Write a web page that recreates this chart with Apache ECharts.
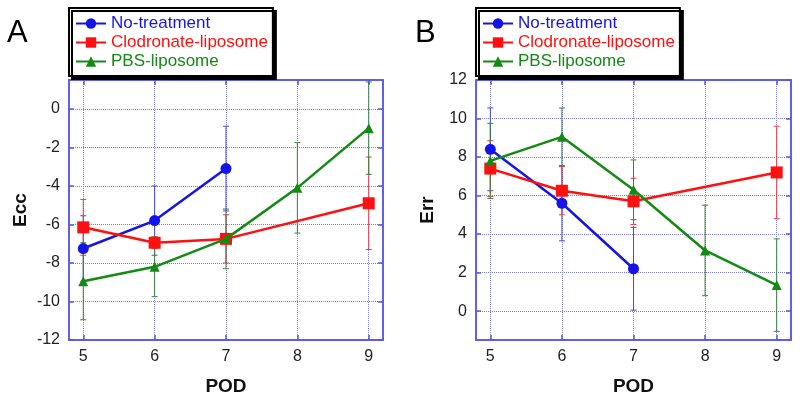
<!DOCTYPE html>
<html><head><meta charset="utf-8">
<script src="https://cdn.jsdelivr.net/npm/echarts@6/dist/echarts.min.js"></script>
<style>html,body{margin:0;padding:0;background:#fff}#c{width:800px;height:401px}</style>
</head><body><div id="c"></div>
<script>
// ---- data ----
const pod = [5, 6, 7, 8, 9];
const seriesNames = ['No-treatment', 'Clodronate-liposome', 'PBS-liposome'];
const xTicks = [5, 6, 7, 8, 9];
const eccTicks = [-12, -10, -8, -6, -4, -2, 0];
const errTicks = [0, 2, 4, 6, 8, 10, 12];

const eccNoTreat = [-7.25, -5.8, -3.1, null, null];
const eccNoTreatSd = [1.7, 1.8, 2.2, null, null];
const eccClod = [-6.15, -6.95, -6.75, null, -4.9];
const eccClodSd = [1.45, 0.3, 1.25, null, 2.4];
const eccPBS = [-8.95, -8.2, -6.75, -4.1, -1.0];
const eccPBSSd = [2.0, 1.55, 1.55, 2.35, 2.4];

const errNoTreat = [8.4, 5.6, 2.2, null, null];
const errNoTreatSd = [2.15, 1.95, 2.15, null, null];
const errClod = [7.4, 6.25, 5.7, null, 7.2];
const errClodSd = [1.45, 1.25, 1.2, null, 2.4];
const errPBS = [7.8, 9.05, 6.3, 3.15, 1.35];
const errPBSSd = [1.95, 1.5, 1.55, 2.35, 2.4];

// ---- styles ----
const colors = ['#1414e6', '#ff1010', '#138a13'];
const barColors = ['#4a4ad0', '#f03a3a', '#3f7f3f'];
const symbols = ['circle', 'rect', 'triangle'];
const symSizes = [11, 12, 10];
const axisBlue = '#5656e8';
const font = 'Liberation Sans, Arial, sans-serif';

function pairs(vals) { return pod.map((x, i) => vals[i] == null ? null : [x, vals[i]]).filter(p => p); }
function triples(vals, sd) { return pod.map((x, i) => vals[i] == null ? null : [x, vals[i], sd[i]]).filter(p => p); }

function errRender(color) {
  return function (params, api) {
    const x = api.value(0), y = api.value(1), e = api.value(2);
    const t = api.coord([x, y + e]), b = api.coord([x, y - e]);
    const w = 3;
    const st = { stroke: color, lineWidth: 1 };
    return { type: 'group', children: [
      { type: 'line', shape: { x1: t[0], y1: t[1], x2: b[0], y2: b[1] }, style: st },
      { type: 'line', shape: { x1: t[0] - w, y1: t[1], x2: t[0] + w, y2: t[1] }, style: st },
      { type: 'line', shape: { x1: b[0] - w, y1: b[1], x2: b[0] + w, y2: b[1] }, style: st }
    ]};
  };
}

function xAxes(gridIndex) {
  const common = { type: 'value', gridIndex, min: 4.8, max: 9.2,
    axisLine: { show: true, onZero: false, lineStyle: { color: axisBlue, width: 1.5 } },
    axisTick: { show: true, inside: true, length: 5, customValues: xTicks, lineStyle: { color: axisBlue, width: 1.5 } } };
  return [
    Object.assign({}, common, { position: 'bottom',
      axisLabel: { customValues: xTicks, color: '#222', fontSize: 16, fontFamily: font, margin: 9 },
      splitLine: { show: true, lineStyle: { type: 'dotted', color: '#7a7ad8', width: 1 } },
      name: 'POD', nameLocation: 'middle', nameGap: 37,
      nameTextStyle: { fontSize: 19, fontWeight: 'bold', color: '#111', fontFamily: font } }),
    Object.assign({}, common, { position: 'top', axisLabel: { show: false }, splitLine: { show: false } })
  ];
}
function yAxes(gridIndex, min, max, ticks, name) {
  const common = { type: 'value', gridIndex, min, max,
    axisLine: { show: true, onZero: false, lineStyle: { color: axisBlue, width: 1.5 } },
    axisTick: { show: true, inside: true, length: 5, customValues: ticks, lineStyle: { color: axisBlue, width: 1.5 } } };
  return [
    Object.assign({}, common, { position: 'left',
      axisLabel: { customValues: ticks, color: '#222', fontSize: 16, fontFamily: font, margin: 9 },
      splitLine: { show: true, lineStyle: { type: 'dotted', color: '#7a7ad8', width: 1 } },
      name, nameLocation: 'middle', nameGap: 39,
      nameTextStyle: { fontSize: 19, fontWeight: 'bold', color: '#111', fontFamily: font } }),
    Object.assign({}, common, { position: 'right', axisLabel: { show: false }, splitLine: { show: false } })
  ];
}

function panelSeries(xi, yi, vals, sds) {
  const out = [];
  for (let k = 0; k < 3; k++) {
    out.push({ type: 'custom', name: seriesNames[k] + ' sd', xAxisIndex: xi, yAxisIndex: yi, z: 1,
      renderItem: errRender(barColors[k]), data: triples(vals[k], sds[k]), encode: { x: 0, y: 1 }, silent: true });
  }
  for (let k = 0; k < 3; k++) {
    out.push({ type: 'line', name: seriesNames[k], xAxisIndex: xi, yAxisIndex: yi, z: 3 + k,
      data: pairs(vals[k]), symbol: symbols[k], symbolSize: symSizes[k], showSymbol: true,
      lineStyle: { color: colors[k], width: 2.5 }, itemStyle: { color: colors[k] } });
  }
  return out;
}

function legend(left) {
  return { left, top: 8, orient: 'vertical', itemGap: 2, itemWidth: 30, itemHeight: 13,
    padding: [7, 5, 6, 6], borderColor: '#000', borderWidth: 2, backgroundColor: '#fff',
    shadowColor: '#000', shadowOffsetX: 3, shadowOffsetY: 3, shadowBlur: 0,
    textStyle: { fontSize: 17, fontFamily: font },
    data: seriesNames.map((n, k) => ({ name: n, textStyle: { color: colors[k] } })),
    selectedMode: false };
}

const chart = echarts.init(document.getElementById('c'), null, { renderer: 'canvas' });
chart.setOption({
  animation: false,
  backgroundColor: '#fff',
  grid: [
    { left: 69, right: 417, top: 80, bottom: 53, show: true, borderColor: axisBlue, borderWidth: 1.5, backgroundColor: 'transparent' },
    { left: 476, right: 9, top: 80, bottom: 53, show: true, borderColor: axisBlue, borderWidth: 1.5, backgroundColor: 'transparent' }
  ],
  xAxis: xAxes(0).concat(xAxes(1)),
  yAxis: yAxes(0, -12, 1.5, eccTicks, 'Ecc').concat(yAxes(1, -1.5, 12, errTicks, 'Err')),
  legend: [legend(69), legend(476)],
  graphic: [
    { type: 'text', left: 7, top: 18, style: { text: 'A', fontSize: 31, fontFamily: font, fill: '#000' } },
    { type: 'text', left: 415, top: 18, style: { text: 'B', fontSize: 31, fontFamily: font, fill: '#000' } }
  ],
  series: panelSeries(0, 0, [eccNoTreat, eccClod, eccPBS], [eccNoTreatSd, eccClodSd, eccPBSSd])
    .concat(panelSeries(2, 2, [errNoTreat, errClod, errPBS], [errNoTreatSd, errClodSd, errPBSSd]))
});
</script></body></html>
